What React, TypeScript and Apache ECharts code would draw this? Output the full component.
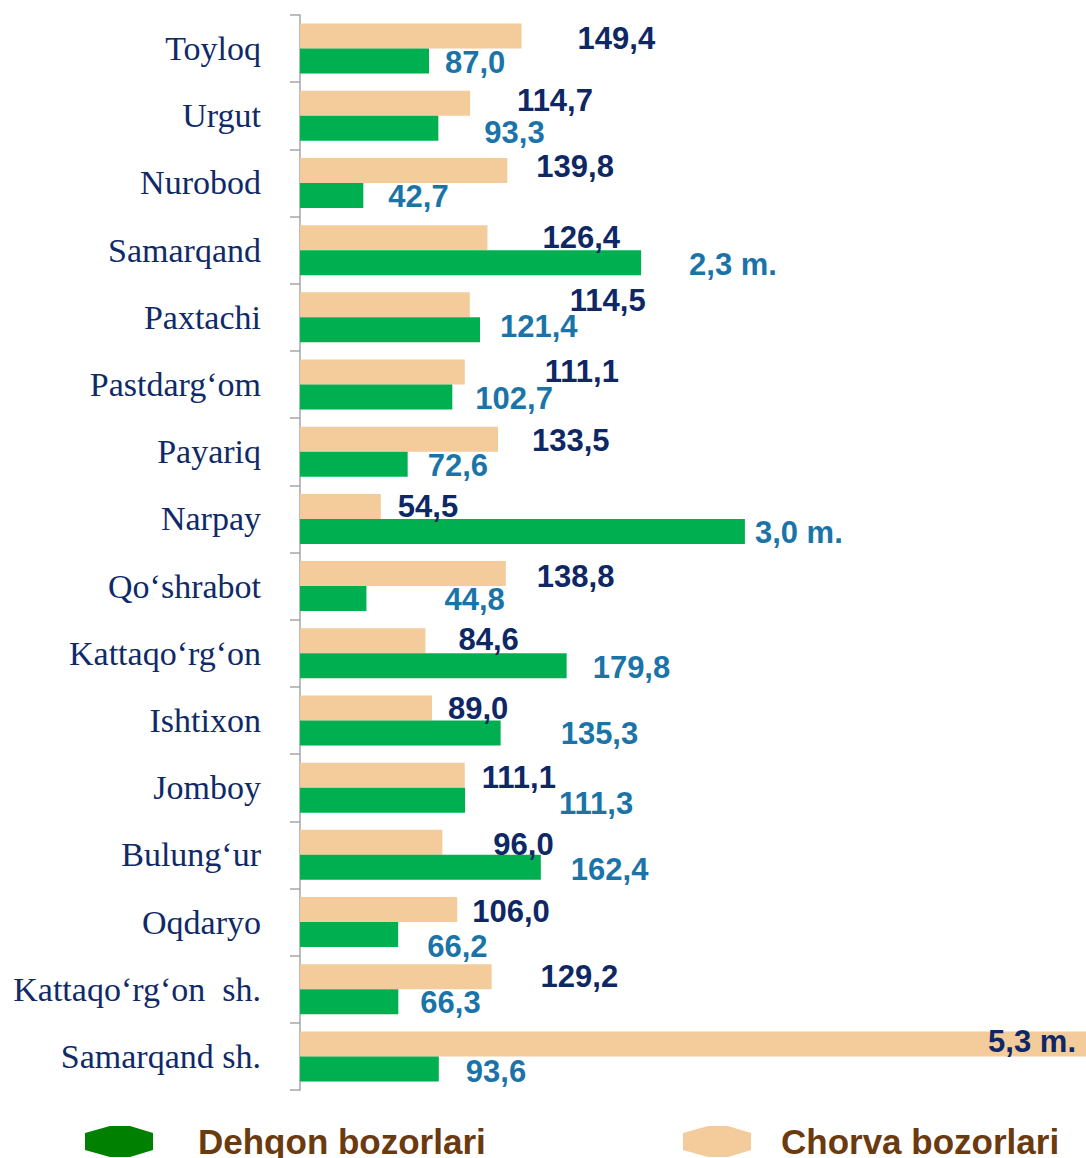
import React, { useEffect, useRef } from "react";
import * as echarts from "echarts";

// Districts (top to bottom)
const categories = [
  "Toyloq", "Urgut", "Nurobod", "Samarqand", "Paxtachi", "Pastdarg‘om", "Payariq", "Narpay",
  "Qo‘shrabot", "Kattaqo‘rg‘on", "Ishtixon", "Jomboy", "Bulung‘ur", "Oqdaryo",
  "Kattaqo‘rg‘on  sh.", "Samarqand sh.",
];

// Values in thousands; values of 1000 and above are labelled in millions ("m.")
// and drawn on a broken scale (one tenth of their length).
const chorvaValues = [149.4, 114.7, 139.8, 126.4, 114.5, 111.1, 133.5, 54.5, 138.8, 84.6, 89.0, 111.1, 96.0, 106.0, 129.2, 5300];
const dehqonValues = [87.0, 93.3, 42.7, 2300, 121.4, 102.7, 72.6, 3000, 44.8, 179.8, 135.3, 111.3, 162.4, 66.2, 66.3, 93.6];

const seriesNames = ["Chorva bozorlari", "Dehqon bozorlari"];

// label nudges [dx, dy] (layout only)
const chorvaNudge = [
  [56, 2], [47, -3], [29, -4], [55, 0], [100, -4], [80, -1], [34, 1], [17, 0],
  [31, 3], [33, -1], [16, 1], [17, 2], [51, 2], [15, 2], [49, 0], [-10, -2],
];
const dehqonNudge = [
  [16, 1], [46, 4], [25, 1], [48, 2], [20, -3], [23, 1], [20, 1], [10, 1],
  [78, 1], [26, 2], [60, 1], [94, 3], [30, 2], [29, 12], [22, 1], [27, 3],
];

const fmt = (v: number) =>
  v >= 1000 ? (v / 1000).toFixed(1).replace(".", ",") + " m." : v.toFixed(1).replace(".", ",");
const plot = (v: number) => (v >= 1000 ? v / 10 : v);

export default function App() {
  const ref = useRef<HTMLDivElement>(null);
  useEffect(() => {
    if (!ref.current) return;
    const chart = echarts.init(ref.current, null, { renderer: "svg" });
    const labelBase = {
      show: true,
      position: "right",
      distance: 0,
      fontFamily: "Liberation Sans, Arial, sans-serif",
      fontWeight: "bold",
      fontSize: 31,
    };
    const hex = "path://M0,7 L25,0 L45,0 L68,7 L68,24 L45,31 L25,31 L0,24 Z";
    const legendText = {
      fontFamily: "Liberation Sans, Arial, sans-serif",
      fontWeight: "bold",
      fontSize: 35,
      lineHeight: 30,
      color: "#6B3A0E",
    };
    chart.setOption({
      animation: false,
      grid: { left: 300, right: 0, top: 15, bottom: 68 },
      xAxis: { type: "value", min: 0, max: 530, show: false },
      yAxis: {
        type: "category",
        inverse: true,
        data: categories,
        axisLine: { show: true, lineStyle: { color: "#A6A6A6", width: 1.5 } },
        axisTick: { show: true, length: 10, lineStyle: { color: "#A6A6A6", width: 1.5 } },
        axisLabel: {
          margin: 39,
          fontFamily: "Liberation Serif, Times New Roman, serif",
          fontSize: 34,
          color: "#0F2A68",
        },
        splitLine: { show: false },
      },
      legend: [
        {
          left: 85,
          top: 1124,
          padding: 0,
          itemWidth: 68,
          itemHeight: 31,
          icon: hex,
          data: [{ name: seriesNames[1], itemStyle: { color: "#008000" } }],
          textStyle: { ...legendText, padding: [2, 0, 0, 40] },
        },
        {
          left: 683,
          top: 1124,
          padding: 0,
          itemWidth: 68,
          itemHeight: 31,
          icon: hex,
          data: [{ name: seriesNames[0], itemStyle: { color: "#F4CB9B" } }],
          textStyle: { ...legendText, padding: [4, 0, 0, 25] },
        },
      ],
      series: [
        {
          name: seriesNames[0],
          type: "bar",
          barWidth: 25,
          barGap: "0%",
          itemStyle: { color: "#F4CB9B" },
          data: chorvaValues.map((v, i) => ({
            value: plot(v),
            label: {
              ...labelBase,
              position: v >= 1000 ? "insideRight" : "right",
              color: "#0E2765",
              offset: chorvaNudge[i],
              formatter: () => fmt(v),
            },
          })),
        },
        {
          name: seriesNames[1],
          type: "bar",
          barWidth: 25,
          barGap: "0%",
          itemStyle: { color: "#00B050" },
          data: dehqonValues.map((v, i) => ({
            value: plot(v),
            label: {
              ...labelBase,
              color: "#1B74A8",
              offset: dehqonNudge[i],
              formatter: () => fmt(v),
            },
          })),
        },
      ],
    });
    return () => chart.dispose();
  }, []);
  return <div ref={ref} style={{ width: 1086, height: 1158, position: "absolute", left: 0, top: 0 }} />;
}
